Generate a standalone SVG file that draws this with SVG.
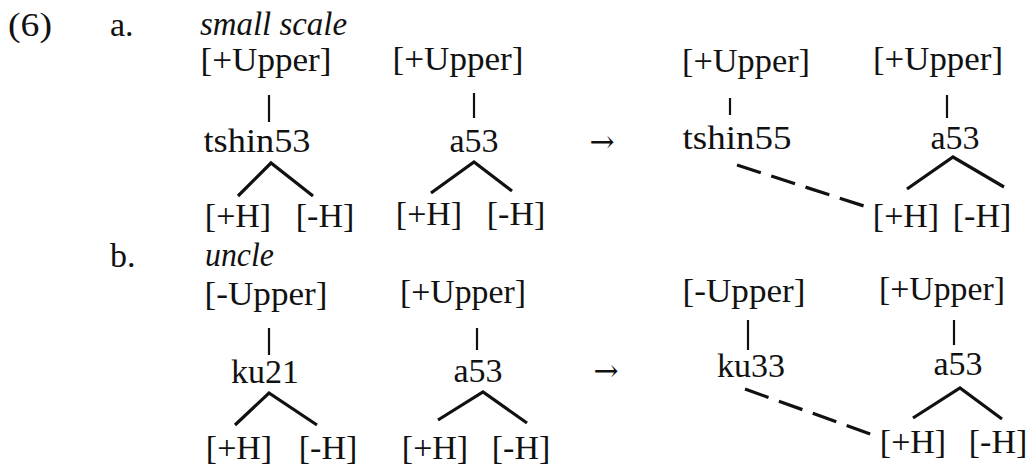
<svg xmlns="http://www.w3.org/2000/svg" width="1031" height="464" viewBox="0 0 1031 464">
<style>
text{font-family:"Liberation Serif","Times New Roman",serif;font-size:34px;fill:#111}
.m{text-anchor:middle}
.i{font-style:italic}
.ar{font-family:"DejaVu Serif",serif;font-size:30px}
.v{stroke:#111;stroke-width:2.2;fill:none}
.b{stroke:#111;stroke-width:3.2;fill:none;stroke-linejoin:miter}
.d{stroke:#111;stroke-width:3.2;fill:none;stroke-dasharray:25 11}
</style>
<rect width="1031" height="464" fill="#fff"/>
<g id="labels">
<text x="8" y="36" textLength="44" lengthAdjust="spacingAndGlyphs">(6)</text>
<text x="110" y="36">a.</text>
<text x="200" y="35" class="i" textLength="147" lengthAdjust="spacingAndGlyphs">small scale</text>
<text x="110" y="267">b.</text>
<text x="205" y="266" class="i" textLength="69" lengthAdjust="spacingAndGlyphs">uncle</text>
</g>
<g id="a1"><text class="m" x="266" y="71" textLength="131" lengthAdjust="spacingAndGlyphs">[+Upper]</text><text class="m" x="257" y="152" textLength="107" lengthAdjust="spacingAndGlyphs">tshin53</text><text class="m" x="238" y="227">[+H]</text><text class="m" x="325" y="227">[-H]</text></g>
<g id="a2"><text class="m" x="458" y="70" textLength="131" lengthAdjust="spacingAndGlyphs">[+Upper]</text><text class="m" x="474" y="152">a53</text><text class="m" x="429" y="225">[+H]</text><text class="m" x="516" y="225">[-H]</text></g>
<g id="a-arrow"><text class="m ar" x="602" y="152">→</text></g>
<g id="a3"><text class="m" x="746" y="72" textLength="128" lengthAdjust="spacingAndGlyphs">[+Upper]</text><text class="m" x="737" y="149" textLength="109" lengthAdjust="spacingAndGlyphs">tshin55</text></g>
<g id="a4"><text class="m" x="938" y="70" textLength="130" lengthAdjust="spacingAndGlyphs">[+Upper]</text><text class="m" x="955" y="149">a53</text><text class="m" x="906" y="227">[+H]</text><text class="m" x="982" y="227">[-H]</text></g>
<g id="b1"><text class="m" x="266" y="305" textLength="123" lengthAdjust="spacingAndGlyphs">[-Upper]</text><text class="m" x="265" y="383">ku21</text><text class="m" x="239" y="459">[+H]</text><text class="m" x="328" y="459">[-H]</text></g>
<g id="b2"><text class="m" x="463" y="303" textLength="126" lengthAdjust="spacingAndGlyphs">[+Upper]</text><text class="m" x="478" y="382">a53</text><text class="m" x="435" y="459">[+H]</text><text class="m" x="521" y="459">[-H]</text></g>
<g id="b-arrow"><text class="m ar" x="606" y="381">→</text></g>
<g id="b3"><text class="m" x="744" y="302" textLength="123" lengthAdjust="spacingAndGlyphs">[-Upper]</text><text class="m" x="751" y="377">ku33</text></g>
<g id="b4"><text class="m" x="942" y="300" textLength="126" lengthAdjust="spacingAndGlyphs">[+Upper]</text><text class="m" x="958" y="375">a53</text><text class="m" x="913" y="453">[+H]</text><text class="m" x="998" y="453">[-H]</text></g>
<g id="connectors">
<line class="v" x1="269" y1="95" x2="269" y2="122"/>
<line class="v" x1="474" y1="93" x2="474" y2="118"/>
<line class="v" x1="730" y1="98" x2="730" y2="115"/>
<line class="v" x1="947" y1="95" x2="947" y2="118"/>
<polyline class="b" points="238,196 271,163 313,196"/>
<polyline class="b" points="431,193 474,162 512,191"/>
<polyline class="b" points="907,189 953,157 1004,187"/>
<line class="d" x1="737" y1="165" x2="867" y2="207"/>
<line class="v" x1="269" y1="328" x2="269" y2="355"/>
<line class="v" x1="477" y1="328" x2="477" y2="350"/>
<line class="v" x1="748" y1="320" x2="748" y2="350"/>
<line class="v" x1="954" y1="320" x2="954" y2="345"/>
<polyline class="b" points="235,425 269,393 317,425"/>
<polyline class="b" points="438,420 483,392 527,423"/>
<polyline class="b" points="913,418 960,388 1002,419"/>
<line class="d" x1="745" y1="389" x2="873" y2="435"/>
</g>
</svg>
